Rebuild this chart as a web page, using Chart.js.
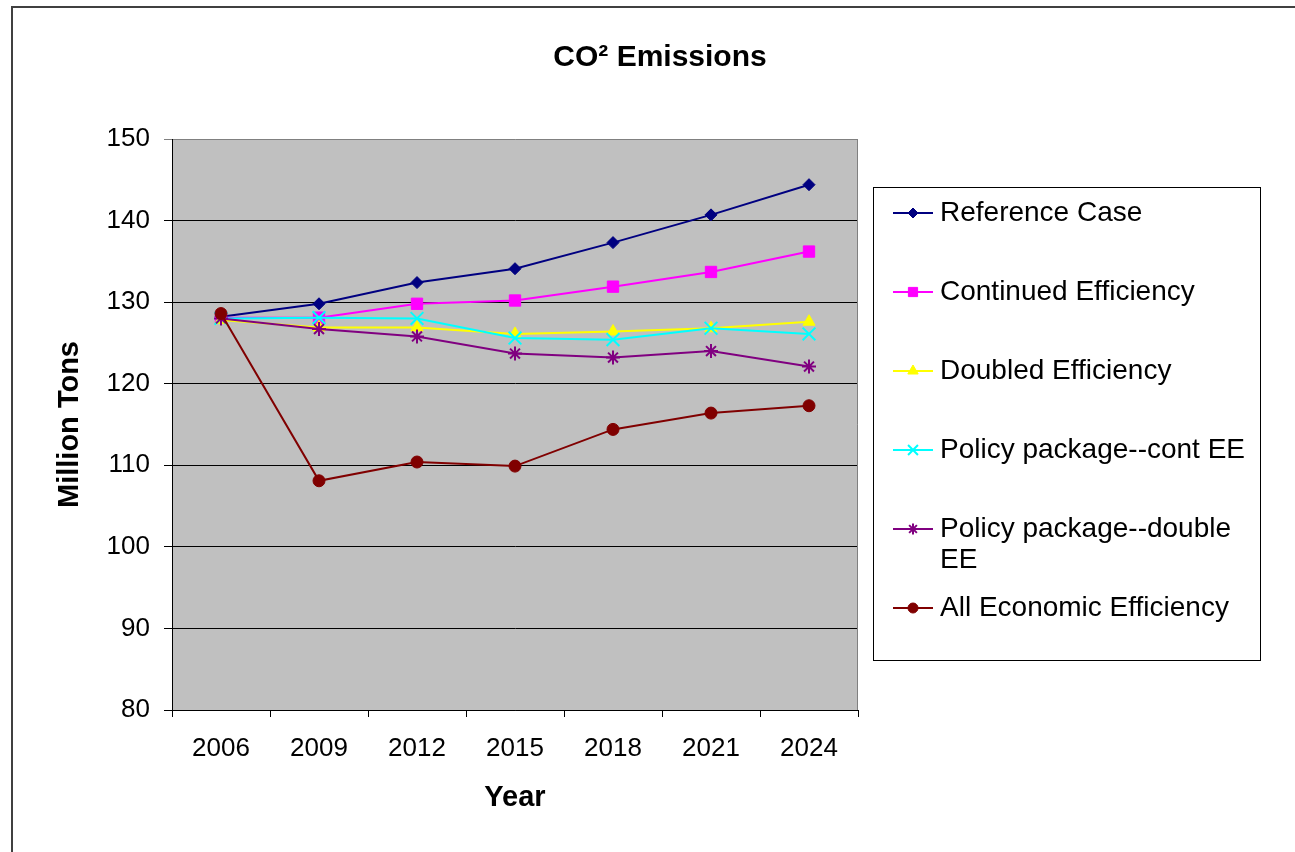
<!DOCTYPE html>
<html>
<head>
<meta charset="utf-8">
<script src="https://cdn.jsdelivr.net/npm/chart.js@4.4.1/dist/chart.umd.min.js"></script>
<style>
  html, body { margin: 0; padding: 0; background: #ffffff; }
  #wrap { width: 1295px; height: 852px; position: relative; }
</style>
</head>
<body>
<div id="wrap"><canvas id="c" width="1295" height="852"></canvas></div>
<script>
// ---- data ----
const years = ['2006', '2009', '2012', '2015', '2018', '2021', '2024'];
const referenceCase         = [128.2, 129.8, 132.4, 134.1, 137.3, 140.7, 144.4];
const continuedEfficiency   = [128.1, 128.1, 129.8, 130.2, 131.9, 133.7, 136.2];
const doubledEfficiency     = [127.8, 126.9, 126.9, 126.1, 126.4, 126.8, 127.6];
const policyContEE          = [128.0, 128.1, 128.0, 125.6, 125.4, 126.8, 126.1];
const policyDoubleEE        = [128.0, 126.7, 125.8, 123.7, 123.2, 124.0, 122.1];
const allEconomicEfficiency = [128.6, 108.1, 110.4, 109.9, 114.4, 116.4, 117.3];
const yTicks = [80, 90, 100, 110, 120, 130, 140, 150];
const seriesNames = [
  'Reference Case',
  'Continued Efficiency',
  'Doubled Efficiency',
  'Policy package--cont EE',
  'Policy package--double EE',
  'All Economic Efficiency'
];
const chartTitle = 'CO\u00B2 Emissions';
const xTitle = 'Year';
const yTitle = 'Million Tons';

// ---- styles ----
const FONT = "'Liberation Sans', Arial, Helvetica, sans-serif";
Chart.defaults.font.family = FONT;
Chart.defaults.color = '#000';

const styles = [
  { color: '#000080', pointStyle: 'rectRot',  radius: 6,   legendRadius: 5 },
  { color: '#FF00FF', pointStyle: 'rect',     radius: 8,   legendRadius: 6.5 },
  { color: '#FFFF00', pointStyle: 'triangle', radius: 7,   legendRadius: 6 },
  { color: '#00FFFF', pointStyle: 'crossRot', radius: 9,   legendRadius: 7 },
  { color: '#800080', pointStyle: 'star',     radius: 7,   legendRadius: 5.5 },
  { color: '#800000', pointStyle: 'circle',   radius: 6,   legendRadius: 5 }
];
const seriesData = [referenceCase, continuedEfficiency, doubledEfficiency,
                    policyContEE, policyDoubleEE, allEconomicEfficiency];

const datasets = seriesData.map((d, i) => ({
  label: seriesNames[i],
  data: d,
  borderColor: styles[i].color,
  backgroundColor: styles[i].color,
  pointBackgroundColor: styles[i].color,
  pointBorderColor: styles[i].color,
  borderWidth: 2,
  pointStyle: styles[i].pointStyle,
  pointRadius: styles[i].radius,
  pointHoverRadius: styles[i].radius,
  pointBorderWidth: (styles[i].pointStyle === 'crossRot' || styles[i].pointStyle === 'star') ? 2 : 1,
  tension: 0,
  fill: false,
  order: seriesData.length - i,
  _legendRadius: styles[i].legendRadius
}));

// ---- plugins ----
const backdrop = {
  id: 'backdrop',
  beforeDraw(chart) {
    const { ctx, chartArea: a } = chart;
    ctx.save();
    ctx.fillStyle = '#ffffff';
    ctx.fillRect(0, 0, chart.width, chart.height);
    // outer frame (extends beyond right and bottom edges)
    ctx.strokeStyle = '#404040';
    ctx.lineWidth = 2;
    ctx.beginPath();
    ctx.moveTo(12, chart.height + 5);
    ctx.lineTo(12, 7);
    ctx.lineTo(chart.width + 5, 7);
    ctx.stroke();
    // plot area
    ctx.fillStyle = '#C0C0C0';
    ctx.fillRect(a.left, a.top, a.right - a.left, a.bottom - a.top);
    ctx.restore();
  },
  beforeDatasetsDraw(chart) {
    const { ctx, chartArea: a } = chart;
    ctx.save();
    ctx.strokeStyle = '#808080';
    ctx.lineWidth = 1;
    ctx.beginPath();
    ctx.moveTo(Math.round(a.right) - 0.5, a.top);
    ctx.lineTo(Math.round(a.right) - 0.5, a.bottom);
    ctx.stroke();
    ctx.restore();
  }
};

const boxLegend = {
  id: 'boxLegend',
  afterDraw(chart) {
    const ctx = chart.ctx;
    const box = { x: 873.5, y: 187.5, w: 387, h: 473 };
    ctx.save();
    ctx.fillStyle = '#ffffff';
    ctx.fillRect(box.x, box.y, box.w, box.h);
    ctx.strokeStyle = '#000';
    ctx.lineWidth = 1;
    ctx.strokeRect(box.x, box.y, box.w, box.h);

    const rowTop = 213, rowStep = 79, lineGap = 31;
    const sx0 = 893, sx1 = 933, tx = 940, maxW = 322;
    ctx.font = '28px ' + FONT;
    ctx.textBaseline = 'middle';
    ctx.textAlign = 'left';
    chart.data.datasets.forEach((ds, i) => {
      const y = rowTop + i * rowStep;
      ctx.strokeStyle = ds.borderColor;
      ctx.lineWidth = 2;
      ctx.beginPath();
      ctx.moveTo(sx0, y);
      ctx.lineTo(sx1, y);
      ctx.stroke();
      ctx.fillStyle = ds.pointBackgroundColor;
      ctx.strokeStyle = ds.pointBorderColor;
      ctx.lineWidth = ds.pointBorderWidth;
      Chart.helpers.drawPoint(ctx, {
        pointStyle: ds.pointStyle,
        radius: ds._legendRadius,
        borderWidth: ds.pointBorderWidth,
        rotation: 0
      }, (sx0 + sx1) / 2, y);

      // wrapped text
      const words = ds.label.split(' ');
      const lines = [];
      let cur = '';
      words.forEach(w => {
        const test = cur ? cur + ' ' + w : w;
        if (ctx.measureText(test).width > maxW && cur) { lines.push(cur); cur = w; }
        else cur = test;
      });
      if (cur) lines.push(cur);
      ctx.fillStyle = '#000';
      lines.forEach((ln, k) => ctx.fillText(ln, tx, y + k * lineGap));
    });
    ctx.restore();
  }
};

// ---- chart ----
new Chart(document.getElementById('c'), {
  type: 'line',
  data: { labels: years, datasets },
  plugins: [backdrop, boxLegend],
  options: {
    responsive: false,
    animation: false,
    devicePixelRatio: 1,
    layout: { padding: { left: 25, right: 0, top: 0, bottom: 0 } },
    plugins: {
      legend: { display: false },
      tooltip: { enabled: false },
      title: {
        display: true,
        text: chartTitle,
        color: '#000',
        font: { family: FONT, size: 30, weight: 'bold' },
        padding: { top: 40, bottom: 63 }
      }
    },
    scales: {
      x: {
        type: 'category',
        offset: true,
        grid: { offset: true, drawOnChartArea: false, drawTicks: true, tickLength: 7, color: '#000', lineWidth: 1 },
        border: { display: true, color: '#000', width: 1 },
        ticks: { color: '#000', font: { family: FONT, size: 26 }, padding: 16, maxRotation: 0, autoSkip: false },
        title: {
          display: true, text: xTitle, color: '#000',
          font: { family: FONT, size: 29, weight: 'bold' },
          padding: { top: 0, bottom: 37 }
        },
        afterFit(s) { s.height = 142; }
      },
      y: {
        position: 'left',
        min: yTicks[0],
        max: yTicks[yTicks.length - 1],
        afterBuildTicks(s) { s.ticks = yTicks.map(v => ({ value: v })); },
        grid: {
          drawTicks: true, tickLength: 8, lineWidth: 1,
          color: (c) => (c.tick && c.tick.value === yTicks[yTicks.length - 1]) ? '#808080' : '#000'
        },
        border: { display: true, color: '#000', width: 1 },
        ticks: { color: '#000', font: { family: FONT, size: 26 }, padding: 14 },
        title: {
          display: true, text: yTitle, color: '#000',
          font: { family: FONT, size: 29, weight: 'bold' },
          padding: { top: 28, bottom: 0 }
        },
        afterFit(s) { s.width = 147; }
      },
      legendSpace: {
        type: 'linear',
        position: 'right',
        display: true,
        grid: { display: false, drawTicks: false },
        border: { display: false },
        ticks: { display: false },
        title: { display: false },
        afterFit(s) { s.width = 437; }
      }
    }
  }
});
</script>
</body>
</html>
